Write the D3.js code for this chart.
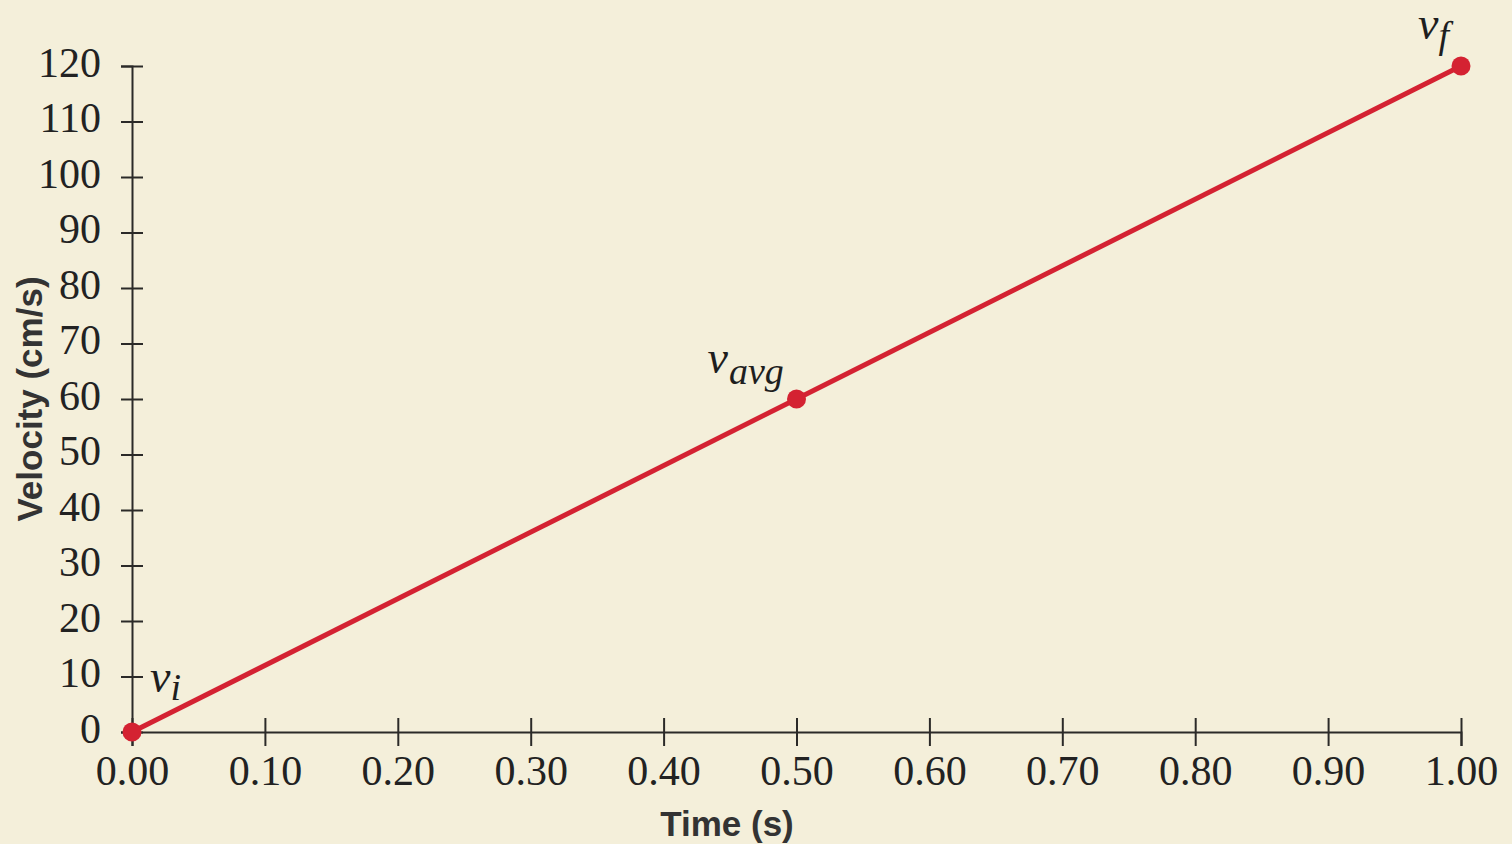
<!DOCTYPE html>
<html><head><meta charset="utf-8">
<script src="https://cdn.jsdelivr.net/npm/d3@7"></script>
<style>
html,body{margin:0;padding:0;background:#f4efda;}
svg{display:block;}
</style></head>
<body>
<svg id="chart" width="1512" height="844"></svg>
<script>
const times = [0, 0.5, 1.0];
const velocities = [0, 60, 120];
const pointLabels = [{main:"v", sub:"i"}, {main:"v", sub:"avg"}, {main:"v", sub:"f"}];
const xTicks = [0,0.1,0.2,0.3,0.4,0.5,0.6,0.7,0.8,0.9,1.0];
const yTicks = [0,10,20,30,40,50,60,70,80,90,100,110,120];
const xTitle = "Time (s)";
const yTitle = "Velocity (cm/s)";

const svg = d3.select("#chart");
svg.append("rect").attr("width",1512).attr("height",844).attr("fill","#f4efda");

const x = d3.scaleLinear().domain([0,1]).range([132,1461]);
const y = d3.scaleLinear().domain([0,120]).range([732,66]);
const axisColor = "#2b2a28";
const serif = "'Liberation Serif', 'DejaVu Serif', serif";

// X axis
const gx = svg.append("g").attr("transform",`translate(0,${y(0)})`)
  .call(d3.axisBottom(x).tickValues(xTicks).tickFormat(d3.format(".2f")).tickSizeOuter(0).tickSize(14));
gx.select(".domain").attr("stroke",axisColor).attr("stroke-width",2);
gx.selectAll(".tick line").attr("y1",-14).attr("y2",14).attr("stroke",axisColor).attr("stroke-width",2);
gx.selectAll(".tick text").attr("y",53).attr("dy",0).attr("fill","#222")
  .style("font-family",serif).style("font-size","42px");

// Y axis
const gy = svg.append("g").attr("transform",`translate(${x(0)},0)`)
  .call(d3.axisLeft(y).tickValues(yTicks).tickFormat(d3.format("d")).tickSizeOuter(0).tickSize(11));
gy.select(".domain").attr("stroke",axisColor).attr("stroke-width",2);
gy.selectAll(".tick line").attr("x1",-11).attr("x2",11).attr("stroke",axisColor).attr("stroke-width",2);
gy.selectAll(".tick text").attr("x",-31).attr("dy",0).attr("y",10).attr("fill","#222")
  .style("font-family",serif).style("font-size","42px");

// line
const data = times.map((t,i)=>({t, v:velocities[i], lab:pointLabels[i]}));
svg.append("path").datum(data)
  .attr("d", d3.line().x(d=>x(d.t)).y(d=>y(d.v)))
  .attr("fill","none").attr("stroke","#d42232").attr("stroke-width",5);
svg.selectAll("circle.pt").data(data).join("circle").attr("class","pt")
  .attr("cx",d=>x(d.t)).attr("cy",d=>y(d.v)).attr("r",9.5).attr("fill","#d42232");

// point labels
const offsets = [{dx:18, dy:-40, sdx:0, sdy:8}, {dx:-89, dy:-26, sdx:1, sdy:11}, {dx:-43, dy:-27, sdx:0, sdy:9}];
data.forEach((d,i)=>{
  const o = offsets[i];
  const t = svg.append("text")
    .attr("x", x(d.t)+o.dx).attr("y", y(d.v)+o.dy)
    .style("font-family",serif).style("font-style","italic").attr("fill","#1e1e1e");
  t.append("tspan").text(d.lab.main).style("font-size","46px");
  t.append("tspan").text(d.lab.sub).attr("dx",o.sdx).attr("dy",o.sdy).style("font-size","38px");
});

// titles
svg.append("text").attr("x",727).attr("y",836).attr("text-anchor","middle")
  .style("font-family","'Liberation Sans', Arial, sans-serif").style("font-weight","bold")
  .style("font-size","35px").attr("fill","#333").text(xTitle);
svg.append("text").attr("transform","translate(42,399) rotate(-90)").attr("text-anchor","middle")
  .style("font-family","'Liberation Sans', Arial, sans-serif").style("font-weight","bold")
  .style("font-size","35px").attr("fill","#333").text(yTitle);
</script>
</body></html>
